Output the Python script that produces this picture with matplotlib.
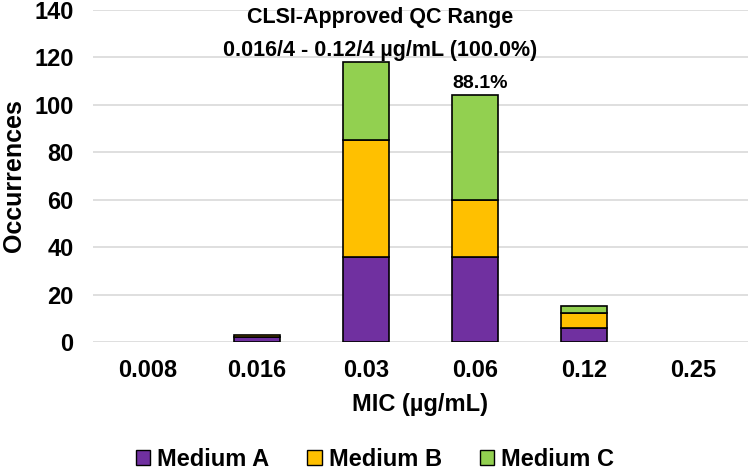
import numpy as np
import matplotlib.pyplot as plt
from matplotlib.patches import Patch

plt.rcParams["font.family"] = ["Liberation Sans", "DejaVu Sans"]
plt.rcParams["font.weight"] = "bold"

# ── Data ──────────────────────────────────────────────────────────────────────
mic_labels = ["0.008", "0.016", "0.03", "0.06", "0.12", "0.25"]
medium_a = [0, 2, 36, 36, 6, 0]
medium_b = [0, 1, 49, 24, 6, 0]
medium_c = [0, 0, 33, 44, 3, 0]

series = [("Medium A", medium_a, "#7030A0"),
          ("Medium B", medium_b, "#FFC000"),
          ("Medium C", medium_c, "#92D050")]

# ── Figure ────────────────────────────────────────────────────────────────────
fig = plt.figure(figsize=(7.5, 4.71), dpi=100, facecolor="white")
ax = fig.add_axes([0.124, 0.274, 0.873, 0.705])

x = np.arange(len(mic_labels))
bottom = np.zeros(len(mic_labels))
handles = []
for name, vals, col in series:
    vals = np.array(vals, dtype=float)
    lw = np.where(vals > 0, 1.2, 0.0)  # no outline for empty segments
    ax.bar(x, vals, width=0.42, bottom=bottom, color=col, edgecolor="black",
           linewidth=lw, zorder=3)
    bottom += vals
    handles.append(Patch(facecolor=col, edgecolor="black", linewidth=1.0, label=name))

ax.set_xlim(-0.5, len(mic_labels) - 0.5)
ax.set_ylim(0, 140)
ax.set_yticks(range(0, 141, 20))
ax.set_xticks(x)
ax.set_xticklabels(mic_labels)
ax.tick_params(axis="both", length=0, labelsize=17, pad=12)
ax.tick_params(axis="y", pad=14)
ax.grid(axis="y", color="#d9d9d9", linewidth=1.2, zorder=0)
for s in ax.spines.values():
    s.set_visible(False)

ax.set_ylabel("Occurrences", fontsize=18, fontweight="bold", labelpad=6)
ax.set_xlabel("MIC (µg/mL)", fontsize=17, fontweight="bold", labelpad=8)

# annotations
ax.text(2.13, 137, "CLSI-Approved QC Range", ha="center", va="center",
        fontsize=15.5, fontweight="bold")
ax.text(2.13, 123, "0.016/4 - 0.12/4 µg/mL (100.0%)", ha="center", va="center",
        fontsize=15.5, fontweight="bold")
ax.text(3.05, bottom[3] + 1.5, "88.1%", ha="center", va="bottom",
        fontsize=14, fontweight="bold")

fig.legend(handles=handles, loc="center", bbox_to_anchor=(0.5, 0.025), ncol=3,
           frameon=False, fontsize=17, handlelength=0.6, handleheight=0.6,
           handletextpad=0.3, columnspacing=1.6)

plt.savefig("out.png", dpi=100)
